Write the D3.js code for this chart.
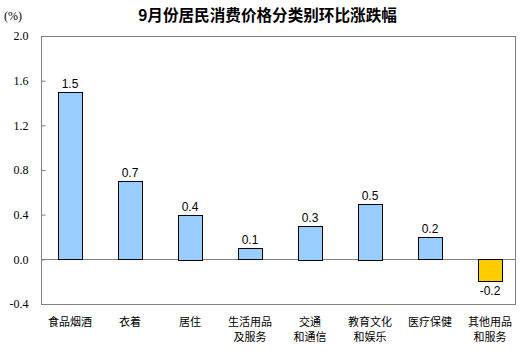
<!DOCTYPE html>
<html><head><meta charset="utf-8">
<script src="https://cdn.jsdelivr.net/npm/d3@7/dist/d3.min.js"></script>
<style>body{margin:0;background:#fff;}</style>
</head><body>
<svg id="c" width="526" height="358"></svg>
<script>
const categories = [["食品烟酒"],["衣着"],["居住"],["生活用品","及服务"],["交通","和通信"],["教育文化","和娱乐"],["医疗保健"],["其他用品","和服务"]];
const values = [1.5, 0.7, 0.4, 0.1, 0.3, 0.5, 0.2, -0.2];
const yTicks = [-0.4, 0.0, 0.4, 0.8, 1.2, 1.6, 2.0];
const title = "9月份居民消费价格分类别环比涨跌幅";
const unit = "(%)";

const fmt = d => d3.format(".1f")(d).replace("\u2212", "-");
const svg = d3.select("#c");
const L = 41, R = 516, T = 36, B = 304;
const x = d3.scaleBand().domain(d3.range(categories.length)).range([40, 520]).paddingInner(0.6).paddingOuter(0.3);
const y = d3.scaleLinear().domain([-0.4, 2.0]).range([B, T]);

svg.append("text").attr("x", 267.5).attr("y", 21).attr("text-anchor", "middle")
  .attr("font-family", "Noto Sans CJK SC").attr("font-size", 15.6).attr("font-weight", "bold").text(title);
svg.append("text").attr("x", 4).attr("y", 20).attr("font-family", "Liberation Serif").attr("font-size", 12).text(unit);

// frame
svg.append("rect").attr("x", L + 0.5).attr("y", T + 0.5).attr("width", R - L - 1).attr("height", B - T)
  .attr("fill", "none").attr("stroke", "#808080").attr("stroke-width", 1);

const yAxis = d3.axisLeft(y).tickValues(yTicks).tickFormat(fmt).tickSize(-4).tickPadding(13);
const ga = svg.append("g").attr("transform", `translate(${L + 0.5},0)`).call(yAxis);
ga.select(".domain").remove();
ga.selectAll("line").attr("stroke", "#808080");
ga.selectAll("text").attr("font-family", "Liberation Serif").attr("font-size", 12).attr("fill", "#000");

// zero line
svg.append("line").attr("x1", L).attr("x2", R).attr("y1", Math.round(y(0)) + 0.5).attr("y2", Math.round(y(0)) + 0.5)
  .attr("stroke", "#808080");

svg.selectAll("rect.bar").data(values).join("rect").attr("class", "bar")
  .attr("x", (d, i) => Math.round(x(i)) + 0.5)
  .attr("width", Math.round(x.bandwidth()))
  .attr("y", d => Math.round(y(Math.max(0, d))) + 0.5)
  .attr("height", d => Math.round(Math.abs(y(d) - y(0))))
  .attr("fill", d => d >= 0 ? "#99CCFF" : "#FFCC00")
  .attr("stroke", "#000").attr("stroke-width", 1);

svg.selectAll("text.val").data(values).join("text").attr("class", "val")
  .attr("x", (d, i) => x(i) + x.bandwidth() / 2)
  .attr("y", d => d >= 0 ? y(d) - 4 : y(d) + 13)
  .attr("text-anchor", "middle").attr("font-family", "Liberation Sans").attr("font-size", 12)
  .text(fmt);

const cl = svg.selectAll("text.cat").data(categories).join("text").attr("class", "cat")
  .attr("text-anchor", "middle").attr("font-family", "Noto Sans CJK SC").attr("font-size", 11);
cl.each(function(d, i) {
  const t = d3.select(this);
  d.forEach((s, j) => t.append("tspan").attr("x", x(i) + x.bandwidth() / 2).attr("y", 326 + j * 15).text(s));
});
</script>
</body></html>
